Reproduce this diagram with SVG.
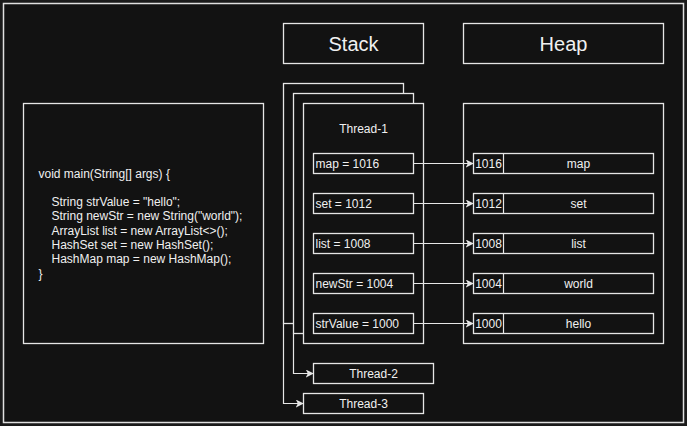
<svg xmlns="http://www.w3.org/2000/svg" width="687" height="426" viewBox="0 0 687 426">
<style>
.box{fill:#121212;stroke:#e6e6e6;stroke-width:1.3}
.t{font-family:"Liberation Sans",Arial,sans-serif;fill:#f0f0f0;font-size:12px}
.c{text-anchor:middle;dominant-baseline:central}
.l{dominant-baseline:central}
.title{font-size:20px}
.edge{fill:none;stroke:#e6e6e6;stroke-width:1.2}
</style>
<defs>
<marker id="arr" viewBox="0 0 10 10" refX="9" refY="5" markerWidth="8" markerHeight="8" markerUnits="userSpaceOnUse" orient="auto">
<path d="M0,0 L10,5 L0,10 L2.5,5 Z" fill="#e6e6e6"/>
</marker>
</defs>
<rect x="0" y="0" width="687" height="426" fill="#1a1a1a"/>
<rect x="3.5" y="3.5" width="680" height="419" fill="#121212" stroke="#e0e0e0" stroke-width="1.5"/>

<g id="stack-title"><rect class="box" x="283.5" y="23.5" width="140" height="40"/><text class="t c title" x="353.5" y="43.5">Stack</text></g>
<g id="heap-title"><rect class="box" x="463.5" y="23.5" width="200" height="40"/><text class="t c title" x="563.5" y="43.5">Heap</text></g>

<g id="code"><rect class="box" x="23.5" y="103.5" width="240" height="240"/>
<text class="t" x="38.5" y="177.5">void main(String[] args) {</text>
<text class="t" x="51.5" y="206">String strValue = "hello";</text>
<text class="t" x="51.5" y="220.3">String newStr = new String("world");</text>
<text class="t" x="51.5" y="234.6">ArrayList list = new ArrayList&lt;&gt;();</text>
<text class="t" x="51.5" y="248.9">HashSet set = new HashSet();</text>
<text class="t" x="51.5" y="263.2">HashMap map = new HashMap();</text>
<text class="t" x="38.5" y="277.5">}</text>
</g>

<g id="thread-3-frame"><rect class="box" x="283.5" y="83.5" width="120" height="240"/></g>
<g id="thread-2-frame"><rect class="box" x="293.5" y="93.5" width="120" height="240"/></g>
<g id="thread-1"><rect class="box" x="303.5" y="103.5" width="120" height="240"/>
<text class="t c" x="363.5" y="128.5">Thread-1</text></g>

<g id="var-map"><rect class="box" x="313.5" y="153.5" width="100" height="20"/><text class="t l" x="315.5" y="163.5">map = 1016</text></g>
<g id="var-set"><rect class="box" x="313.5" y="193.5" width="100" height="20"/><text class="t l" x="315.5" y="203.5">set = 1012</text></g>
<g id="var-list"><rect class="box" x="313.5" y="233.5" width="100" height="20"/><text class="t l" x="315.5" y="243.5">list = 1008</text></g>
<g id="var-newStr"><rect class="box" x="313.5" y="273.5" width="100" height="20"/><text class="t l" x="315.5" y="283.5">newStr = 1004</text></g>
<g id="var-strValue"><rect class="box" x="313.5" y="313.5" width="100" height="20"/><text class="t l" x="315.5" y="323.5">strValue = 1000</text></g>

<g id="thread-2"><rect class="box" x="313.5" y="363.5" width="120" height="20"/><text class="t c" x="373.5" y="373.5">Thread-2</text></g>
<g id="thread-3"><rect class="box" x="303.5" y="393.5" width="120" height="20"/><text class="t c" x="363.5" y="403.5">Thread-3</text></g>

<g id="heap"><rect class="box" x="463.5" y="103.5" width="200" height="240"/></g>
<g id="obj-1016"><rect class="box" x="473.5" y="153.5" width="180" height="20"/><line class="edge" x1="503.5" y1="153.5" x2="503.5" y2="173.5"/><text class="t c" x="488.5" y="163.5">1016</text><text class="t c" x="578.5" y="163.5">map</text></g>
<g id="obj-1012"><rect class="box" x="473.5" y="193.5" width="180" height="20"/><line class="edge" x1="503.5" y1="193.5" x2="503.5" y2="213.5"/><text class="t c" x="488.5" y="203.5">1012</text><text class="t c" x="578.5" y="203.5">set</text></g>
<g id="obj-1008"><rect class="box" x="473.5" y="233.5" width="180" height="20"/><line class="edge" x1="503.5" y1="233.5" x2="503.5" y2="253.5"/><text class="t c" x="488.5" y="243.5">1008</text><text class="t c" x="578.5" y="243.5">list</text></g>
<g id="obj-1004"><rect class="box" x="473.5" y="273.5" width="180" height="20"/><line class="edge" x1="503.5" y1="273.5" x2="503.5" y2="293.5"/><text class="t c" x="488.5" y="283.5">1004</text><text class="t c" x="578.5" y="283.5">world</text></g>
<g id="obj-1000"><rect class="box" x="473.5" y="313.5" width="180" height="20"/><line class="edge" x1="503.5" y1="313.5" x2="503.5" y2="333.5"/><text class="t c" x="488.5" y="323.5">1000</text><text class="t c" x="578.5" y="323.5">hello</text></g>

<g id="connectors">
<path class="edge" d="M413.5,163.5 H473" marker-end="url(#arr)"/>
<path class="edge" d="M413.5,203.5 H473" marker-end="url(#arr)"/>
<path class="edge" d="M413.5,243.5 H473" marker-end="url(#arr)"/>
<path class="edge" d="M413.5,283.5 H473" marker-end="url(#arr)"/>
<path class="edge" d="M413.5,323.5 H473" marker-end="url(#arr)"/>
<path class="edge" d="M293.5,333.5 V373.5 H313" marker-end="url(#arr)"/>
<path class="edge" d="M283.5,323.5 V403.5 H303" marker-end="url(#arr)"/>
</g>
</svg>
